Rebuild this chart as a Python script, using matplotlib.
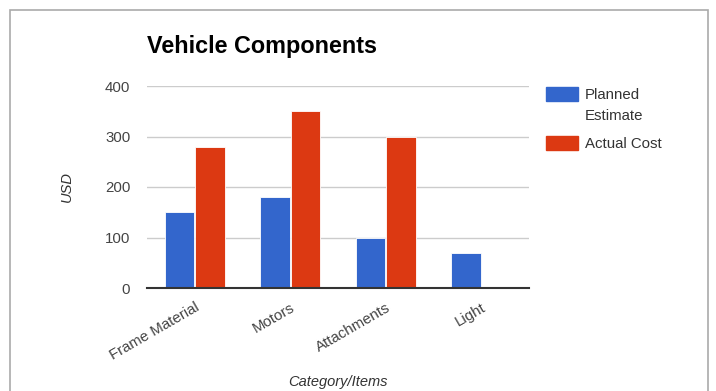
import numpy as np
import matplotlib
matplotlib.use("Agg")
import matplotlib.pyplot as plt
from matplotlib.patches import Rectangle

plt.rcParams['font.family'] = ['Liberation Sans', 'DejaVu Sans']

categories = ["Frame Material", "Motors", "Attachments", "Light"]
planned = [150, 180, 100, 70]
actual = [280, 350, 300, np.nan]
series_names = ["Planned\nEstimate", "Actual Cost"]
yticks = [0, 100, 200, 300, 400]

blue = "#3366CC"
red = "#DC3912"
colors = [blue, red]

W, H = 716, 391
fig = plt.figure(figsize=(W / 100, H / 100), dpi=100)
ax = fig.add_axes([147 / W, 1 - 288 / H, 382 / W, 202 / H])

# outer frame of the chart
fig.patches.append(Rectangle((10 / W, -0.05), 698 / W, 1 - 10 / H + 0.05,
                             transform=fig.transFigure, fill=False,
                             edgecolor="#aaaaaa", linewidth=1.2))

x = np.arange(len(categories))
w = 0.31
ax.bar(x - 0.16, planned, w, color=blue, edgecolor="#ffffff", linewidth=0.6,
       zorder=3)
ax.bar(x + 0.16, actual, w, color=red, edgecolor="#ffffff", linewidth=0.6,
       zorder=3)

ax.set_xlim(-0.5, 3.5)
ax.set_ylim(0, 400)
ax.set_yticks(yticks)
ax.yaxis.grid(True, color="#cccccc", linewidth=1, zorder=0)
for s in ["top", "right", "left"]:
    ax.spines[s].set_visible(False)
ax.spines["bottom"].set_color("#333333")
ax.spines["bottom"].set_linewidth(1.5)
ax.spines["bottom"].set_zorder(4)
ax.tick_params(axis="both", length=0, colors="#444444", labelsize=10.8)
ax.tick_params(axis="y", pad=12)
ax.tick_params(axis="x", pad=9)
ax.set_xticks(x)
ax.set_xticklabels(categories, rotation=30, ha="right", rotation_mode="anchor")

ax.set_ylabel("USD", style="italic", fontsize=10.5, color="#333333", labelpad=22)
ax.set_xlabel("Category/Items", style="italic", fontsize=10.5, color="#333333",
              labelpad=9)

fig.text(147 / W, 1 - 47 / H, "Vehicle Components", fontsize=16.8,
         fontweight="bold", color="#000000", va="center", ha="left")

# legend, swatch aligned with the first line of each label
legend_top = [87, 136]
for name, c, top in zip(series_names, colors, legend_top):
    fig.patches.append(Rectangle((546 / W, 1 - (top + 14) / H), 32 / W, 14 / H,
                                 transform=fig.transFigure, color=c))
    fig.text(585 / W, 1 - (top + 1) / H, name, fontsize=10.8, color="#333333",
             va="top", ha="left", linespacing=1.6)

fig.savefig("out.png", dpi=100)
